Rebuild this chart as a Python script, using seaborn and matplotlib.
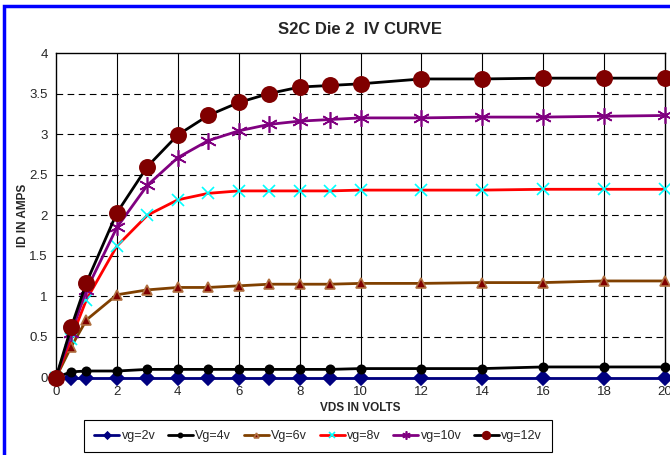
import matplotlib
matplotlib.use("Agg")
import matplotlib.pyplot as plt
import numpy as np
import pandas as pd
import seaborn as sns
from matplotlib.patches import Rectangle

# VDS sweep points (volts)
vds = [0, 0.5, 1, 2, 3, 4, 5, 6, 7, 8, 9, 10, 12, 14, 16, 18, 20]

# ID in amps for each gate voltage
id_vg2 = [0, 0, 0, 0, 0, 0, 0, 0, 0, 0, 0, 0, 0, 0, 0, 0, 0]
id_vg4 = [0, 0.07, 0.08, 0.08, 0.10, 0.10, 0.10, 0.10, 0.10, 0.10, 0.10, 0.11, 0.11, 0.11, 0.13, 0.13, 0.13]
id_vg6 = [0, 0.38, 0.71, 1.02, 1.08, 1.11, 1.11, 1.13, 1.15, 1.15, 1.15, 1.16, 1.16, 1.17, 1.17, 1.19, 1.19]
id_vg8 = [0, 0.48, 0.96, 1.62, 2.00, 2.19, 2.27, 2.30, 2.30, 2.30, 2.30, 2.31, 2.31, 2.31, 2.32, 2.32, 2.32]
id_vg10 = [0, 0.55, 1.08, 1.85, 2.37, 2.71, 2.92, 3.04, 3.12, 3.16, 3.18, 3.20, 3.20, 3.21, 3.21, 3.22, 3.23]
id_vg12 = [0, 0.62, 1.17, 2.03, 2.60, 2.99, 3.23, 3.39, 3.50, 3.58, 3.60, 3.62, 3.68, 3.68, 3.69, 3.69, 3.69]

series_names = ["vg=2v", "Vg=4v", "Vg=6v", "vg=8v", "vg=10v", "vg=12v"]
series_values = [id_vg2, id_vg4, id_vg6, id_vg8, id_vg10, id_vg12]

# line colour, marker, marker size, marker face, marker edge
styles = {
    "vg=2v": ("#000080", "D", 7, "#000080", "#000080"),
    "Vg=4v": ("black", "o", 6, "black", "black"),
    "Vg=6v": ("#804000", "^", 7, "#800000", "#b07040"),
    "vg=8v": ("red", "x", 9, "cyan", "cyan"),
    "vg=10v": ("#800080", (6, 2, 0), 12, "#800080", "#800080"),
    "vg=12v": ("black", "o", 11, "#800000", "#800000"),
}

rows = []
for name, vals in zip(series_names, series_values):
    for x, y in zip(vds, vals):
        rows.append({"VDS": x, "ID": y, "series": name})
df = pd.DataFrame(rows)

sns.set_style("white")
plt.rcParams["font.family"] = ["Liberation Sans", "DejaVu Sans"]

fig = plt.figure(figsize=(6.7, 4.55), dpi=100)
ax = fig.add_axes([56 / 670, 1 - 377.5 / 455, 609 / 670, 324.5 / 455])

# blue chart frame
fig.patches.append(Rectangle((4 / 670, -0.05), 1.0, 1 - 6 / 455 + 0.05,
                             transform=fig.transFigure, fill=False,
                             edgecolor="#0000ff", linewidth=2.5, zorder=0))

for name in series_names:
    color, marker, ms, mfc, mec = styles[name]
    sub = df[df["series"] == name]
    sns.lineplot(data=sub, x="VDS", y="ID", ax=ax, color=color, linewidth=2,
                 marker=marker, markersize=ms, markerfacecolor=mfc,
                 markeredgecolor=mec, markeredgewidth=1.2, label=name,
                 clip_on=False, zorder=3)

ax.set_xlim(0, 20)
ax.set_ylim(0, 4)
ax.set_xticks(np.arange(0, 21, 2))
ax.set_yticks(np.arange(0, 4.01, 0.5))
ax.set_yticklabels(["0", "0.5", "1", "1.5", "2", "2.5", "3", "3.5", "4"])

ax.grid(False)
for v in np.arange(2, 20, 2):
    ax.axvline(v, color="black", linewidth=0.8, zorder=1)
for h in np.arange(0.5, 4, 0.5):
    ax.axhline(h, color="black", linewidth=0.8, linestyle=(0, (6, 4)), zorder=1)

for sp in ax.spines.values():
    sp.set_color("black")
    sp.set_linewidth(1)

ax.tick_params(axis="both", which="major", direction="out", length=4,
               width=0.8, color="black", labelsize=9.5, pad=2)

ax.set_title("S2C Die 2  IV CURVE", fontsize=12, fontweight="bold", pad=14)
ax.set_xlabel("VDS IN VOLTS", fontsize=8.5, fontweight="bold", labelpad=3)
ax.set_ylabel("ID IN AMPS", fontsize=8.5, fontweight="bold", labelpad=0)

ax.legend(loc="upper left", bbox_to_anchor=(84 / 670, 1 - 420 / 455),
          bbox_transform=fig.transFigure, borderaxespad=0, ncol=6, fontsize=9,
          frameon=True, fancybox=False, edgecolor="black", framealpha=1,
          handlelength=2, handletextpad=0.2, columnspacing=1.0,
          borderpad=0.8, markerscale=0.5)
ax.get_legend().get_frame().set_linewidth(0.8)

fig.savefig("out.png", dpi=100)
